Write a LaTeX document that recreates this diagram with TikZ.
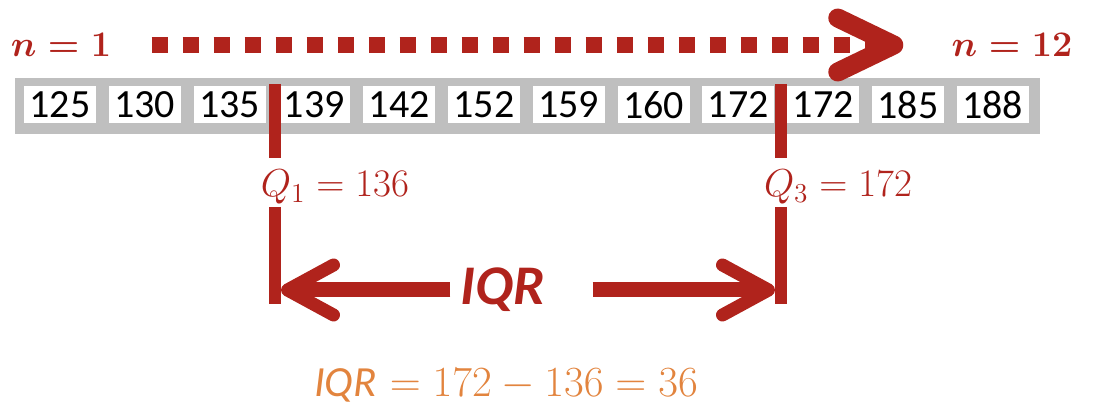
\RequirePackage{fix-cm}
\documentclass[tikz,border=0pt]{standalone}
\usepackage{fontspec}
\newfontfamily\calib{Carlito}
\usetikzlibrary{arrows.meta,positioning}
\definecolor{qred}{RGB}{176,35,28}
\definecolor{qorange}{RGB}{226,132,62}
\definecolor{bargray}{RGB}{191,191,191}
\tikzstyle{cell}=[fill=white,minimum width=36pt,minimum height=18.5pt,inner sep=0pt,font=\calib\fontsize{20}{20}\selectfont]
\tikzstyle{countlabel}=[text=qred,inner sep=0pt,font=\fontsize{18}{20}\selectfont\boldmath]
\tikzstyle{quart}=[text=qred,inner sep=0pt,font=\fontsize{19.5}{22}\selectfont]
\tikzstyle{qline}=[draw=qred,line width=6pt]
\tikzstyle{dots}=[draw=qred,line width=8pt,dash pattern=on 8pt off 7.5pt,-{Straight Barb[length=28pt 0,width=27pt 0,line width=9.5pt 0,line cap=round,line join=round]}]
\tikzstyle{iqrline}=[draw=qred,line width=7.5pt,-{Straight Barb[length=23pt 0,width=25pt 0,line width=6.5pt 0,line cap=round,line join=round]}]

\begin{document}
\begin{tikzpicture}[x=0.5pt,y=-0.5pt,node distance=42.4pt]
	\useasboundingbox (0,0) rectangle (1094,410);
	% ordered data
	\fill[bargray] (15,78) rectangle (1040,134);
	\node [cell] (c1) at (60,105)       {125};
	\node [cell] (c2) [right of=c1]     {130};
	\node [cell] (c3) [right of=c2]     {135};
	\node [cell] (c4) [right of=c3]     {139};
	\node [cell] (c5) [right of=c4]     {142};
	\node [cell] (c6) [right of=c5]     {152};
	\node [cell] (c7) [right of=c6]     {159};
	\node [cell] (c8) [right of=c7]     {160};
	\node [cell] (c9) [right of=c8]     {172};
	\node [cell] (c10) [right of=c9]    {172};
	\node [cell] (c11) [right of=c10]   {185};
	\node [cell] (c12) [right of=c11]   {188};

	% counting
	\node [countlabel] (n1) at (61,45)    {$n=1$};
	\node [countlabel] (n12) at (1012,45) {$n=12$};
	\draw [dots,shorten <=20pt,shorten >=24pt] (n1) -- (n12);

	% quartiles
	\node [quart] (q1lab) at (335,187) {$Q_1 = 136$};
	\node [quart] (q3lab) at (838,187) {$Q_3 = 172$};
	\coordinate (q1a) at (275,84);
	\coordinate (q1b) at (275,158);
	\coordinate (q1c) at (275,207);
	\coordinate (q1d) at (275,304);
	\coordinate (q3a) at (781,84);
	\coordinate (q3b) at (781,158);
	\coordinate (q3c) at (781,207);
	\coordinate (q3d) at (781,304);
	\draw [qline] (q1a) -- (q1b);
	\draw [qline] (q1c) -- (q1d);
	\draw [qline] (q3a) -- (q3b);
	\draw [qline] (q3c) -- (q3d);

	% range
	\node [text=qred,inner sep=0pt,font=\calib\bfseries\itshape\fontsize{28}{30}\selectfont] (iqr) at (503,290) {IQR};
	\coordinate (tipl) at (281,290);
	\coordinate (tipr) at (775,290);
	\draw [iqrline,shorten <=5pt] (iqr.west) -- (tipl);
	\draw [iqrline,shorten <=23.5pt] (iqr.east) -- (tipr);
	\node [text=qorange,inner sep=0pt,font=\fontsize{21.5}{24}\selectfont] (calc) at (506,385) {{\calib\itshape IQR} $=172-136=36$};
\end{tikzpicture}
\end{document}
